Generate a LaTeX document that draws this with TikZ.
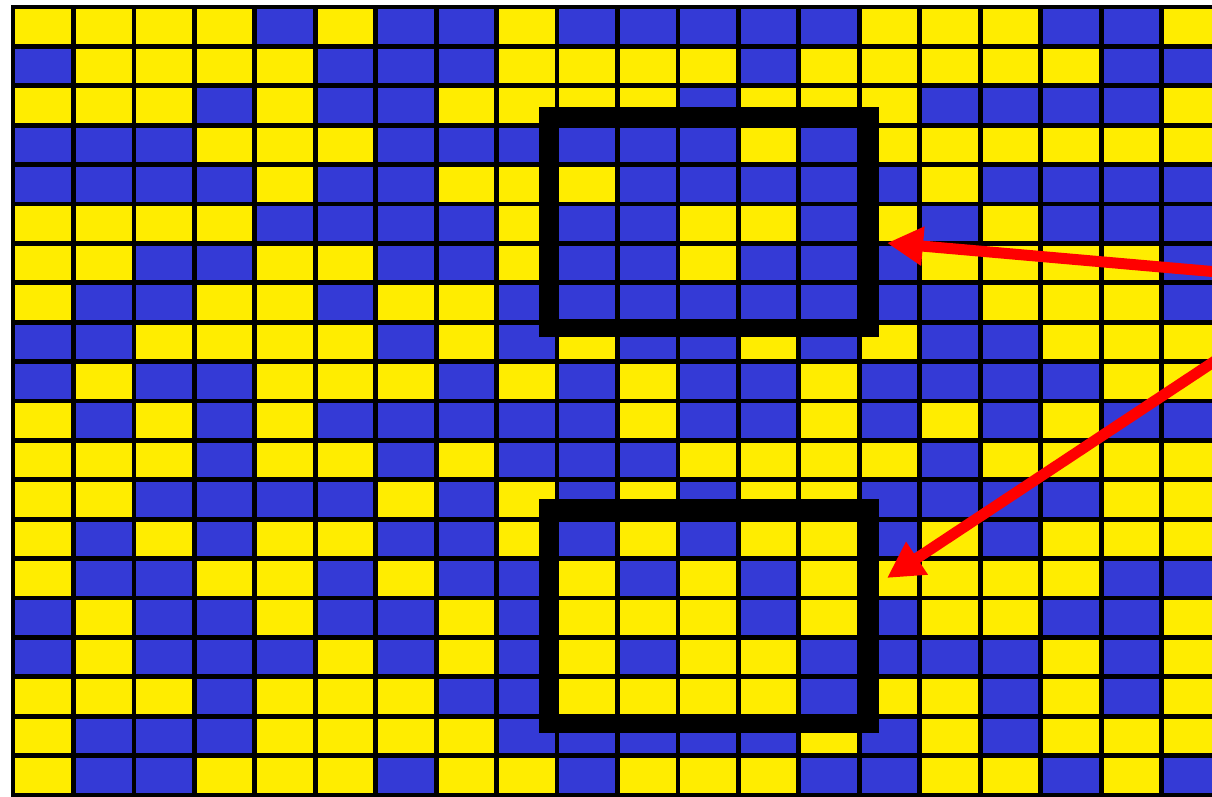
\documentclass[tikz,border=0pt]{standalone}
\usetikzlibrary{arrows.meta}
\definecolor{yel}{RGB}{255,237,0}
\definecolor{blu}{RGB}{52,58,214}
\definecolor{arr}{RGB}{255,0,0}
\colorlet{c1}{yel}
\colorlet{c0}{blu}
\begin{document}
\begin{tikzpicture}[x=0.5pt,y=-0.5pt,
  cell/.style={draw=black,line width=2.4pt},
  hbox/.style={draw=black,line width=9pt,line join=miter,minimum width=161pt,minimum height=106pt,inner sep=0pt,outer sep=0pt},
  pointer/.style={draw=arr,line width=5.5pt,-{Triangle[length=18pt,width=18.5pt]}}]
\useasboundingbox (0,0) rectangle (1212,797);
\fill[white] (0,0) rectangle (1212,797);
\begin{scope}
\clip (0,0) rectangle (1212,797);
\foreach \row [count=\j from 0] in {
 {1,1,1,1,0,1,0,0,1,0,0,0,0,0,1,1,1,0,0,1},
 {0,1,1,1,1,0,0,0,1,1,1,1,0,1,1,1,1,1,0,0},
 {1,1,1,0,1,0,0,1,1,1,1,0,1,1,1,0,0,0,0,1},
 {0,0,0,1,1,1,0,0,0,0,0,0,1,0,1,1,1,1,1,1},
 {0,0,0,0,1,0,0,1,1,1,0,0,0,0,0,1,0,0,0,0},
 {1,1,1,1,0,0,0,0,1,0,0,1,1,0,1,0,1,0,0,0},
 {1,1,0,0,1,1,0,0,1,0,0,1,0,0,0,1,1,1,1,0},
 {1,0,0,1,1,0,1,1,0,0,0,0,0,0,0,0,1,1,1,0},
 {0,0,1,1,1,1,0,1,0,1,0,0,1,0,1,0,0,1,1,1},
 {0,1,0,0,1,1,1,0,1,0,1,0,0,1,0,0,0,0,1,1},
 {1,0,1,0,1,0,0,0,0,0,1,0,0,1,0,1,0,1,0,0},
 {1,1,1,0,1,1,0,1,0,0,0,1,1,1,1,0,1,1,1,1},
 {1,1,0,0,0,0,1,0,1,0,1,0,1,1,0,0,0,0,1,1},
 {1,0,1,0,1,1,0,0,1,0,1,0,1,1,0,1,0,1,1,1},
 {1,0,0,1,1,0,1,0,0,1,0,1,0,1,1,1,1,1,0,0},
 {0,1,0,0,1,0,0,1,0,1,1,1,0,1,0,1,1,0,0,1},
 {0,1,0,0,0,1,0,1,0,1,0,1,1,0,0,0,0,1,0,1},
 {1,1,1,0,1,1,1,0,0,1,1,1,1,0,1,1,0,1,0,1},
 {1,0,0,0,1,1,1,1,0,0,0,0,0,1,0,1,0,1,1,1},
 {1,0,0,1,1,1,0,1,1,0,1,1,1,0,0,1,1,0,1,0}} {
  \foreach \c [count=\i from 0] in \row {
    \pgfmathsetmacro\xa{13+60.45*\i}
    \pgfmathsetmacro\xb{13+60.45*(\i+1)}
    \pgfmathsetmacro\ya{7+39.4*\j}
    \pgfmathsetmacro\yb{7+39.4*(\j+1)}
    \filldraw[cell,fill=c\c] (\xa,\ya) rectangle (\xb,\yb);
  }
}
\node[hbox] (box1) at (709,222) {};
\node[hbox,minimum height=108pt] (box2) at (709,616) {};
\coordinate (src1) at (1218,272);
\coordinate (tip1) at (887,243);
\coordinate (src2) at (1218,359);
\coordinate (tip2) at (887,578);
\draw[pointer] (src1) -- (tip1);
\draw[pointer] (src2) -- (tip2);
\end{scope}
\end{tikzpicture}
\end{document}
